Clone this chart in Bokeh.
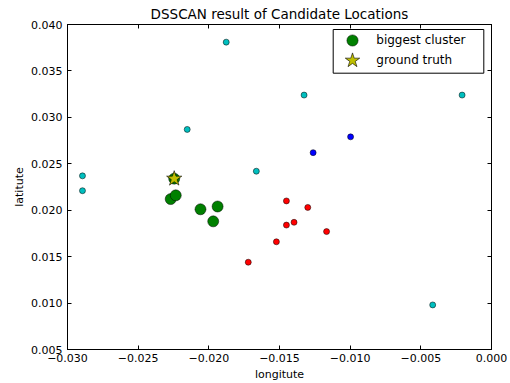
from bokeh.plotting import figure
from bokeh.models import (Range1d, FixedTicker, LinearAxis, Legend, LegendItem,
                          BoxAnnotation)
from bokeh.embed import file_html
from bokeh.resources import INLINE

# Offsets from the reference coordinates (lon -79.98, lat 40.42)
LON_OFFSET_TEXT = "\u22127.998e1"
LAT_OFFSET_TEXT = "+4.042e1"

noise_lon = [-0.01877, -0.02153, -0.02894, -0.01664, -0.02894, -0.01326, -0.00208, -0.00416]
noise_lat = [0.0381, 0.0287, 0.0237, 0.0242, 0.0221, 0.0324, 0.0324, 0.0098]

blue_lon = [-0.00997, -0.01262]
blue_lat = [0.0279, 0.0262]

red_lon = [-0.01721, -0.01522, -0.01451, -0.01300, -0.01451, -0.01397, -0.01167]
red_lat = [0.0144, 0.0166, 0.0210, 0.0203, 0.0184, 0.0187, 0.0177]

big_lon = [-0.02270, -0.02234, -0.02059, -0.01938, -0.01969, -0.02245]
big_lat = [0.0212, 0.0216, 0.0201, 0.0204, 0.0188, 0.0234]

truth_lon = [-0.02245]
truth_lat = [0.0234]

x_ticks = [-0.030, -0.025, -0.020, -0.015, -0.010, -0.005, 0.000]
x_tick_labels = ["\u22120.030", "\u22120.025", "\u22120.020", "\u22120.015",
                 "\u22120.010", "\u22120.005", "0.000"]
y_ticks = [0.005, 0.010, 0.015, 0.020, 0.025, 0.030, 0.035, 0.040]
y_tick_labels = ["0.005", "0.010", "0.015", "0.020", "0.025", "0.030", "0.035", "0.040"]

FONT = "DejaVu Sans"

p = figure(width=510, height=383, output_backend="svg", toolbar_location=None,
           x_range=Range1d(x_ticks[0], x_ticks[-1]),
           y_range=Range1d(y_ticks[0], y_ticks[-1]),
           min_border_left=67, min_border_right=19, min_border_top=24,
           min_border_bottom=33, title="DSSCAN result of Candidate Locations")

p.title.text_font = FONT
p.title.text_font_size = "13.5px"
p.title.text_font_style = "normal"
p.title.align = "center"
p.title.text_color = "black"
p.title.standoff = 5

p.xgrid.visible = False
p.ygrid.visible = False
p.outline_line_color = "black"
p.outline_line_width = 1
p.background_fill_color = "white"
p.border_fill_color = "white"


def style_axis(ax, ticks, labels, show_labels):
    ax.ticker = FixedTicker(ticks=ticks)
    ax.major_tick_in = 4
    ax.major_tick_out = 0
    ax.minor_tick_line_color = None
    ax.axis_line_color = "black"
    ax.major_tick_line_color = "black"
    ax.major_label_text_font = FONT
    ax.major_label_text_color = "black"
    if show_labels:
        ax.major_label_overrides = dict(zip(ticks, labels))
        ax.major_label_text_font_size = "11px"
    else:
        ax.major_label_text_font_size = "0px"
        ax.major_label_standoff = 0


xa = p.xaxis[0]
ya = p.yaxis[0]
style_axis(xa, x_ticks, x_tick_labels, True)
style_axis(ya, y_ticks, y_tick_labels, True)
xa.major_label_standoff = 4
ya.major_label_standoff = 5
xa.axis_label = "longitute"
ya.axis_label = "latitute"
for ax in (xa, ya):
    ax.axis_label_text_font = FONT
    ax.axis_label_text_font_size = "11px"
    ax.axis_label_text_font_style = "normal"
    ax.axis_label_text_color = "black"
xa.axis_label_standoff = 3
ya.axis_label_standoff = 2

# Mirror axes on top and right, ticks only
top = LinearAxis()
right = LinearAxis()
style_axis(top, x_ticks, x_tick_labels, False)
style_axis(right, y_ticks, y_tick_labels, False)
p.add_layout(top, "above")
p.add_layout(right, "right")

small = 6
p.scatter(noise_lon, noise_lat, size=small, fill_color="#00bfbf",
          line_color="black", line_width=0.5)
p.scatter(blue_lon, blue_lat, size=small, fill_color="#0000ff",
          line_color="black", line_width=0.5)
p.scatter(red_lon, red_lat, size=small, fill_color="#ff0000",
          line_color="black", line_width=0.5)
big = p.scatter(big_lon, big_lat, size=11, fill_color="#008000",
                line_color="black", line_width=0.5)
truth = p.scatter(truth_lon, truth_lat, marker="star", size=16,
                  fill_color="#bfbf00", line_color="black", line_width=0.6)

# Legend frame, then one borderless legend per entry so each marker keeps its size
p.add_layout(BoxAnnotation(left=265.7, right=416.3, top=320, bottom=276.3,
                           left_units="screen", right_units="screen",
                           top_units="screen", bottom_units="screen",
                           fill_color="white", fill_alpha=1,
                           line_color="black", line_width=1, line_alpha=1))


def entry(label, renderer, glyph, standoff, loc):
    return Legend(items=[LegendItem(label=label, renderers=[renderer])],
                  location=loc, margin=0, padding=0, spacing=0,
                  glyph_width=glyph, glyph_height=glyph, label_standoff=standoff,
                  label_text_font=FONT, label_text_font_size="12px",
                  label_text_color="black", border_line_color=None,
                  background_fill_alpha=0)


p.add_layout(entry("biggest cluster", big, 28, 10, (271.3, 295.3)))
p.add_layout(entry("ground truth", truth, 38, 5, (266.3, 270.3)))

# Axis offset texts, drawn as glyph-less text entries at the axes corners
blank = p.scatter(x=[], y=[], size=0, fill_alpha=0, line_alpha=0)


def offset_text(text, loc):
    return Legend(items=[LegendItem(label=text, renderers=[blank])],
                  location=loc, margin=0, padding=0, spacing=0,
                  glyph_width=1, glyph_height=1, label_standoff=0,
                  label_height=20, label_text_font=FONT,
                  label_text_font_size="11px", label_text_color="black",
                  border_line_color=None, background_fill_alpha=0)


p.add_layout(offset_text(LAT_OFFSET_TEXT, (0, 322.8)))
p.add_layout(offset_text(LON_OFFSET_TEXT, (367, -33.7)))

open("out.html", "w").write(file_html(p, INLINE))
